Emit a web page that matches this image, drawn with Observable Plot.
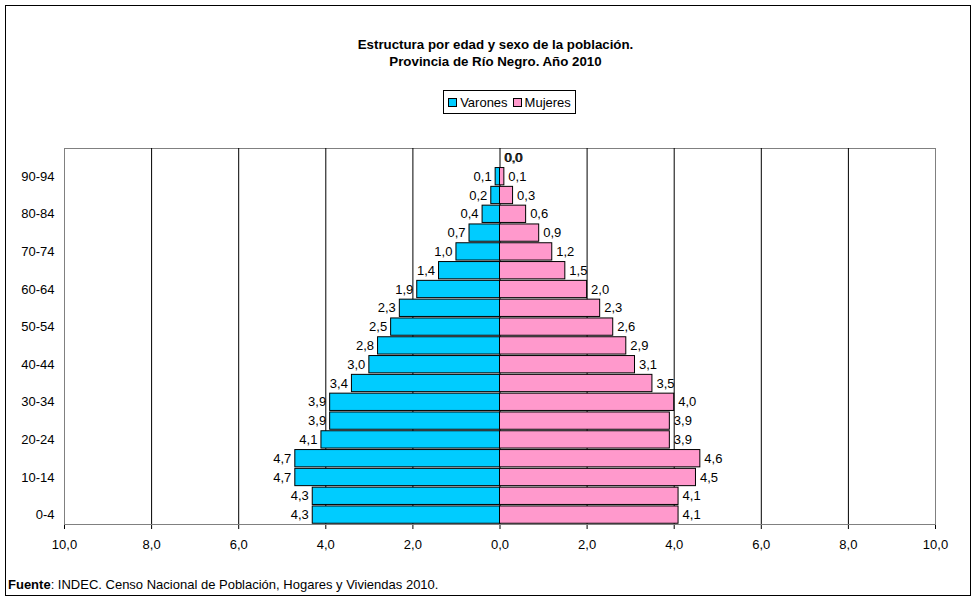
<!DOCTYPE html>
<html>
<head>
<meta charset="utf-8">
<script src="https://cdn.jsdelivr.net/npm/d3@7"></script>
<script src="https://cdn.jsdelivr.net/npm/@observablehq/plot@0.6"></script>
<style>
  html, body { margin: 0; padding: 0; background: #fff; }
  #wrap { position: relative; width: 977px; height: 600px; font-family: "Liberation Sans", Arial, sans-serif; color: #000; }
  #border { position: absolute; left: 5px; top: 5px; width: 966px; height: 591px; border: 1px solid #000; box-sizing: border-box; }
  #title { position: absolute; left: 0; top: 36px; width: 991px; text-align: center; font-weight: bold; font-size: 13.3px; line-height: 17px; }
  #legend { position: absolute; left: 443px; top: 90px; width: 133px; height: 24px; border: 1px solid #000; box-sizing: border-box; font-size: 13px; display: flex; align-items: center; justify-content: center; gap: 5px; }
  #legend .it { display: flex; align-items: center; gap: 3px; }
  #legend .sw { width: 7px; height: 7px; border: 1px solid #000; }
  #chart { position: absolute; left: 0; top: 130px; }
  #foot { position: absolute; left: 8px; top: 577px; font-size: 13px; }
</style>
</head>
<body>
<div id="wrap">
  <div id="border"></div>
  <div id="title">Estructura por edad y sexo de la población.<br>Provincia de Río Negro. Año 2010</div>
  <div id="legend"></div>
  <div id="chart"></div>
  <div id="foot"><b>Fuente</b>: INDEC. Censo Nacional de Población, Hogares y Viviendas 2010.</div>
</div>
<script>
const ages = ["0-4","5-9","10-14","15-19","20-24","25-29","30-34","35-39","40-44","45-49","50-54","55-59","60-64","65-69","70-74","75-79","80-84","85-89","90-94","95 y más"];
const varones = [4.3,4.3,4.7,4.7,4.1,3.9,3.9,3.4,3.0,2.8,2.5,2.3,1.9,1.4,1.0,0.7,0.4,0.2,0.1,0.0];
const mujeres = [4.1,4.1,4.5,4.6,3.9,3.9,4.0,3.5,3.1,2.9,2.6,2.3,2.0,1.5,1.2,0.9,0.6,0.3,0.1,0.0];
const xTicks = [-10,-8,-6,-4,-2,0,2,4,6,8,10];
const series = ["Varones","Mujeres"];
const colors = ["#00CCFF","#FF99CC"];

const rows = ages.map((a, i) => ({age: a, v: varones[i], m: mujeres[i]}));
const fmt = d => Math.abs(d).toFixed(1).replace(".", ",");

// legend
const lg = document.getElementById("legend");
series.forEach((s, i) => {
  const it = document.createElement("span");
  it.className = "it";
  it.innerHTML = `<span class="sw" style="background:${colors[i]}"></span><span>${s}</span>`;
  lg.appendChild(it);
});

const chart = Plot.plot({
  width: 977,
  height: 440,
  marginLeft: 64,
  marginRight: 42,
  marginTop: 18,
  marginBottom: 46,
  style: {fontFamily: '"Liberation Sans", Arial, sans-serif', fontSize: "13px", color: "#000", background: "transparent"},
  x: {domain: [-10, 10], ticks: xTicks, tickFormat: fmt, tickSize: 5, tickPadding: 10, label: null, line: true},
  y: {domain: ages.slice().reverse(), round: false, paddingInner: 0.08, paddingOuter: 0.04, tickSize: 0, tickPadding: 10, label: null,
      tickFormat: (d) => (ages.indexOf(d) % 2 === 0 && ages.indexOf(d) < 19) ? d : ""},
  marks: [
    Plot.frame({stroke: "#808080"}),
    Plot.ruleX(xTicks.filter(t => t > -10 && t < 10), {stroke: "#000", strokeWidth: 1}),
    Plot.barX(rows, {x1: 0, x2: d => -d.v, y: "age", fill: colors[0], stroke: "#000", strokeWidth: 1}),
    Plot.barX(rows, {x1: 0, x2: "m", y: "age", fill: colors[1], stroke: "#000", strokeWidth: 1}),
    Plot.ruleX(rows.filter(d => d.v === 0 && d.m === 0), {x: 0, y: "age", stroke: "#000", strokeWidth: 3}),
    Plot.text(rows.filter(d => d.v > 0), {x: d => -d.v, y: "age", text: d => fmt(d.v), textAnchor: "end", dx: -4, fill: "#000"}),
    Plot.text(rows.filter(d => d.v === 0), {x: 0, y: "age", text: d => fmt(d.v), textAnchor: "start", dx: 5, fill: "#000"}),
    Plot.text(rows, {x: "m", y: "age", text: d => fmt(d.m), textAnchor: "start", dx: 4, fill: "#000"})
  ]
});
document.getElementById("chart").appendChild(chart);
</script>
</body>
</html>
